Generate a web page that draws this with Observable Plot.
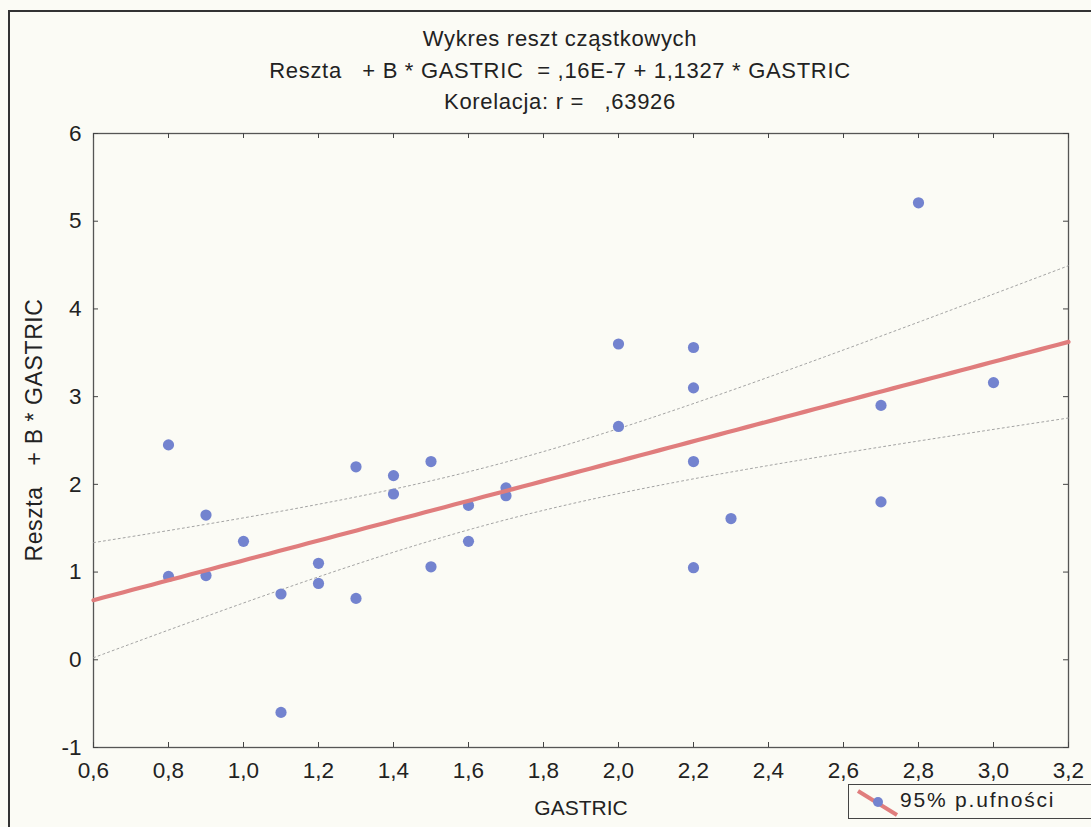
<!DOCTYPE html>
<html>
<head>
<meta charset="utf-8">
<script src="https://cdn.jsdelivr.net/npm/d3@7"></script>
<script src="https://cdn.jsdelivr.net/npm/@observablehq/plot@0.6"></script>
<style>
  html, body { margin: 0; padding: 0; background: #fbfbf5; }
  #wrap { position: relative; width: 1091px; height: 827px; overflow: hidden; background: #fbfbf5;
          font-family: "Liberation Sans", Arial, sans-serif; color: #222; }
  #border { position: absolute; left: 8px; top: 10px; width: 1100px; height: 900px;
            border-left: 2.5px solid #333; border-top: 2.5px solid #333; }
  .t { position: absolute; left: 0; width: 1120px; text-align: center; white-space: pre;
       font-family: "Liberation Sans", Arial, sans-serif; font-size: 22px; letter-spacing: 0.7px; color: #222; }
  #chart { position: absolute; left: 0; top: 115px; }
  #chart svg text { font-size: 22.5px !important; fill: #222; }
  #ylab { position: absolute; left: 34px; top: 430px; transform: translate(-50%, -50%) rotate(-90deg);
          white-space: pre; font-size: 23px; letter-spacing: 0.6px; color: #222; }
  #xlab { position: absolute; left: 581px; top: 808px; transform: translate(-50%, -50%);
          font-size: 21px; color: #222; }
  #legend { position: absolute; left: 848px; top: 784px; width: 260px; height: 33px;
            border: 1.3px solid #444; background: #fbfbf5; }
  #legtext { position: absolute; left: 51px; top: 3px; font-size: 21px; letter-spacing: 1.8px; color: #222; white-space: pre; }
</style>
</head>
<body>
<div id="wrap">
  <div id="border"></div>
  <div class="t" style="top:26px">Wykres reszt cząstkowych</div>
  <div class="t" style="top:58px">Reszta   + B * GASTRIC  = ,16E-7 + 1,1327 * GASTRIC</div>
  <div class="t" style="top:89px">Korelacja: r =   ,63926</div>
  <div id="chart"></div>
  <div id="ylab">Reszta   + B * GASTRIC</div>
  <div id="xlab">GASTRIC</div>
  <div id="legend">
    <svg width="50" height="33" style="position:absolute;left:0;top:0">
      <line x1="9" y1="6" x2="48" y2="30" stroke="#e07d7d" stroke-width="4"/>
      <ellipse cx="29" cy="17" rx="5" ry="5" fill="#7383cf"/>
    </svg>
    <div id="legtext">95% p.ufności</div>
  </div>
</div>
<script>
// ---- data ----
const gastric = [0.8, 0.8, 0.9, 0.9, 1.0, 1.1, 1.1, 1.2, 1.2, 1.3, 1.3, 1.4, 1.4, 1.5, 1.5,
                 1.6, 1.6, 1.7, 1.7, 2.0, 2.0, 2.2, 2.2, 2.2, 2.2, 2.3, 2.7, 2.7, 2.8, 3.0];
const partialResidual = [2.45, 0.95, 1.65, 0.96, 1.35, 0.75, -0.60, 1.10, 0.87, 2.20, 0.70, 2.10, 1.89, 2.26, 1.06,
                 1.76, 1.35, 1.96, 1.87, 3.60, 2.66, 3.56, 3.10, 2.26, 1.05, 1.61, 2.90, 1.80, 5.21, 3.16];
const intercept = 0.16e-7;
const slope = 1.1327;
const xTicks = [0.6, 0.8, 1.0, 1.2, 1.4, 1.6, 1.8, 2.0, 2.2, 2.4, 2.6, 2.8, 3.0, 3.2];
const yTicks = [-1, 0, 1, 2, 3, 4, 5, 6];
const xDomain = [0.6, 3.2];
const yDomain = [-1, 6];
const tCrit = 2.048; // t(0.975, 28)

const points = gastric.map((x, i) => ({x, y: partialResidual[i]}));

// regression line & 95% confidence band, computed from the data
const n = points.length;
const xbar = d3.mean(gastric);
const Sxx = d3.sum(gastric, x => (x - xbar) ** 2);
const sse = d3.sum(points, p => (p.y - (intercept + slope * p.x)) ** 2);
const s = Math.sqrt(sse / (n - 2));
const grid = d3.range(0, 101).map(i => xDomain[0] + (xDomain[1] - xDomain[0]) * i / 100);
const fit = grid.map(x => {
  const yhat = intercept + slope * x;
  const h = tCrit * s * Math.sqrt(1 / n + (x - xbar) ** 2 / Sxx);
  return {x, yhat, lo: yhat - h, hi: yhat + h};
});

const W = 1091, H = 712, mT = 18, mB = 80, mL = 93, mR = 23;
const plotH = H - mT - mB, plotW = W - mL - mR;
const fmtX = d => d.toFixed(1).replace(".", ",");
const fmtY = d => String(d);

const chart = Plot.plot({
  width: W, height: H,
  marginTop: mT, marginBottom: mB, marginLeft: mL, marginRight: mR,
  style: {background: "transparent", fontFamily: "'Liberation Sans', Arial, sans-serif", fontSize: "22px", color: "#222"},
  x: {domain: xDomain, ticks: xTicks},
  y: {domain: yDomain, ticks: yTicks},
  marks: [
    Plot.frame({stroke: "#555", strokeWidth: 1.3}),
    // inward tick marks on all four sides
    Plot.tickX(xTicks, {x: d => d, insetTop: plotH - 5, stroke: "#444"}),
    Plot.tickX(xTicks, {x: d => d, insetBottom: plotH - 5, stroke: "#444"}),
    Plot.tickY(yTicks, {y: d => d, insetRight: plotW - 5, stroke: "#444"}),
    Plot.tickY(yTicks, {y: d => d, insetLeft: plotW - 5, stroke: "#444"}),
    Plot.axisX({ticks: xTicks, tickSize: 0, tickPadding: 15, tickFormat: fmtX, label: null, fontSize: 22.5}),
    Plot.axisY({ticks: yTicks, tickSize: 0, tickPadding: 12, tickFormat: fmtY, label: null, fontSize: 22.5}),
    Plot.line(fit, {x: "x", y: "hi", stroke: "#999", strokeWidth: 0.9, strokeDasharray: "2,3"}),
    Plot.line(fit, {x: "x", y: "lo", stroke: "#999", strokeWidth: 0.9, strokeDasharray: "2,3"}),
    Plot.dot(points, {x: "x", y: "y", r: 5.6, fill: "#7383cf", stroke: "none"}),
    Plot.line(fit, {x: "x", y: "yhat", stroke: "#e07d7d", strokeWidth: 4.2})
  ]
});
document.getElementById("chart").appendChild(chart);
</script>
</body>
</html>
